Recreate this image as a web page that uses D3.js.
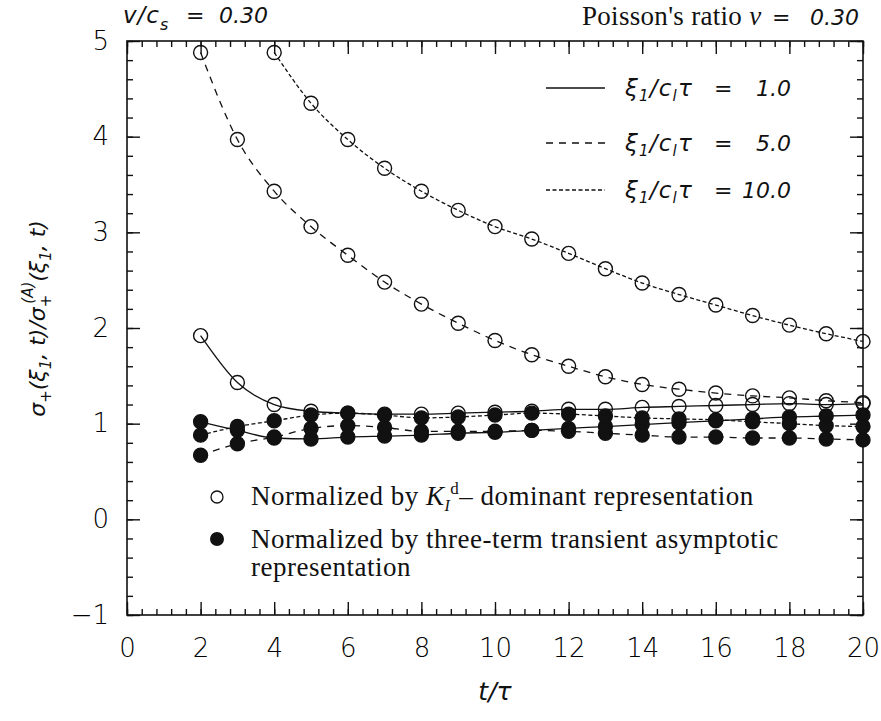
<!DOCTYPE html>
<html>
<head>
<meta charset="utf-8">
<script src="https://cdn.jsdelivr.net/npm/d3@7/dist/d3.min.js"></script>
<style>
  html, body { margin: 0; padding: 0; background: #fff; }
  svg { display: block; }
  .tick text { font-family: "DejaVu Sans", sans-serif; font-weight: 200; font-size: 26px; fill: #000; }
  .sans-it { font-family: "DejaVu Sans", sans-serif; font-style: italic; fill: #111; }
  .serif { font-family: "Liberation Serif", serif; fill: #111; }
</style>
</head>
<body>
<svg id="chart" width="881" height="721"></svg>
<script>
// time steps t/τ
const tSteps = [2,3,4,5,6,7,8,9,10,11,12,13,14,15,16,17,18,19,20];
const tFar = [4,5,6,7,8,9,10,11,12,13,14,15,16,17,18,19,20];

// normalized by K_I^d-dominant representation (open circles)
const openXi1  = [1.92,1.43,1.20,1.13,1.11,1.10,1.10,1.11,1.12,1.13,1.15,1.15,1.17,1.18,1.19,1.20,1.21,1.20,1.21];
const openXi5  = [4.88,3.97,3.43,3.06,2.76,2.48,2.25,2.05,1.87,1.72,1.60,1.49,1.41,1.36,1.32,1.29,1.27,1.24,1.22];
const openXi10 = [4.88,4.35,3.97,3.67,3.43,3.23,3.06,2.93,2.78,2.62,2.47,2.35,2.24,2.13,2.03,1.94,1.86];

// normalized by three-term transient asymptotic representation (filled circles)
const fillXi1  = [1.02,0.93,0.85,0.84,0.86,0.87,0.88,0.90,0.91,0.93,0.95,0.97,0.99,1.01,1.03,1.05,1.07,1.08,1.09];
const fillXi5  = [0.67,0.79,0.86,0.95,0.98,0.96,0.92,0.92,0.92,0.93,0.92,0.90,0.88,0.86,0.86,0.85,0.85,0.84,0.83];
const fillXi10 = [0.88,0.97,1.03,1.09,1.11,1.09,1.06,1.07,1.09,1.11,1.10,1.08,1.06,1.05,1.04,1.02,1.00,0.98,0.97];

const legendValues = ["1.0", "5.0", "10.0"];
const xMajor = [0,2,4,6,8,10,12,14,16,18,20];
const yMajor = [-1,0,1,2,3,4,5];

const svg = d3.select("#chart");
const x = d3.scaleLinear().domain([0, 20]).range([127, 863]);
const y = d3.scaleLinear().domain([-1, 5]).range([615, 41]);

const dashes = { solid: null, dashed: "7,6", dotted: "4,2.5" };

const series = [
  { t: tSteps, v: openXi1,  style: "solid",  filled: false },
  { t: tSteps, v: openXi5,  style: "dashed", filled: false },
  { t: tFar,   v: openXi10, style: "dotted", filled: false },
  { t: tSteps, v: fillXi1,  style: "solid",  filled: true },
  { t: tSteps, v: fillXi5,  style: "dashed", filled: true },
  { t: tSteps, v: fillXi10, style: "dotted", filled: true }
];

// axes with inward ticks on all four sides
const minorX = d3.range(0, 20.001, 0.4);
const minorY = d3.range(-1, 5.001, 0.2);
const axisGroup = svg.append("g");

function addAxis(axis, transform, labels) {
  const g = axisGroup.append("g").attr("transform", transform).call(axis);
  g.select(".domain").remove();
  g.selectAll(".tick line").attr("stroke", "#111").attr("stroke-width", 1.4);
  if (!labels) g.selectAll(".tick text").remove();
  return g;
}
addAxis(d3.axisBottom(x).tickValues(minorX).tickSize(-6).tickFormat(""), `translate(0,${y(-1)})`, false);
addAxis(d3.axisTop(x).tickValues(minorX).tickSize(-6).tickFormat(""), `translate(0,${y(5)})`, false);
addAxis(d3.axisLeft(y).tickValues(minorY).tickSize(-6).tickFormat(""), `translate(${x(0)},0)`, false);
addAxis(d3.axisRight(y).tickValues(minorY).tickSize(-6).tickFormat(""), `translate(${x(20)},0)`, false);

addAxis(d3.axisBottom(x).tickValues(xMajor).tickSize(-13).tickPadding(24).tickFormat(d3.format("d")), `translate(0,${y(-1)})`, true);
addAxis(d3.axisTop(x).tickValues(xMajor).tickSize(-13).tickFormat(""), `translate(0,${y(5)})`, false);
addAxis(d3.axisLeft(y).tickValues(yMajor).tickSize(-13).tickPadding(18).tickFormat(d => d < 0 ? "\u2212" + Math.abs(d) : d), `translate(${x(0)},0)`, true);
addAxis(d3.axisRight(y).tickValues(yMajor).tickSize(-13).tickFormat(""), `translate(${x(20)},0)`, false);

svg.append("rect")
  .attr("x", x(0)).attr("y", y(5))
  .attr("width", x(20) - x(0)).attr("height", y(-1) - y(5))
  .attr("fill", "none").attr("stroke", "#111").attr("stroke-width", 1.6);

// curves
const line = d3.line().x(d => x(d[0])).y(d => y(d[1])).curve(d3.curveMonotoneX);
const plot = svg.append("g");
series.forEach(s => {
  const pts = s.t.map((t, i) => [t, s.v[i]]);
  plot.append("path")
    .attr("d", line(pts))
    .attr("fill", "none")
    .attr("stroke", "#111")
    .attr("stroke-width", 1.3)
    .attr("stroke-dasharray", dashes[s.style]);
});
series.forEach(s => {
  const pts = s.t.map((t, i) => [t, s.v[i]]);
  plot.selectAll(null).data(pts).enter().append("circle")
    .attr("cx", d => x(d[0])).attr("cy", d => y(d[1]))
    .attr("r", 7)
    .attr("fill", s.filled ? "#111" : "none")
    .attr("stroke", "#111")
    .attr("stroke-width", 1.4);
});

// line-style legend
const styles = ["solid", "dashed", "dotted"];
const legY = [88, 143, 190];
styles.forEach((st, i) => {
  svg.append("line")
    .attr("x1", 546).attr("x2", 605).attr("y1", legY[i]).attr("y2", legY[i])
    .attr("stroke", "#111").attr("stroke-width", 1.3)
    .attr("stroke-dasharray", dashes[st]);
  const t = svg.append("text").attr("class", "sans-it").attr("x", 625).attr("y", legY[i] + 8)
    .attr("font-size", 23).attr("letter-spacing", 1.2);
  t.append("tspan").text("\u03BE");
  t.append("tspan").attr("font-size", 15).attr("dy", 5).text("1");
  t.append("tspan").attr("dy", -5).text("/c");
  t.append("tspan").attr("font-size", 15).attr("dy", 5).text("l");
  t.append("tspan").attr("dy", -5).text("\u03C4");
  svg.append("text").attr("class", "sans-it").attr("x", 714).attr("y", legY[i] + 8)
    .attr("font-size", 22).text("=");
  svg.append("text").attr("class", "sans-it").attr("x", 791).attr("y", legY[i] + 8)
    .attr("font-size", 22).attr("text-anchor", "end").text(legendValues[i]);
});

// marker legend
svg.append("circle").attr("cx", 217).attr("cy", 497).attr("r", 6)
  .attr("fill", "none").attr("stroke", "#111").attr("stroke-width", 1.3);
svg.append("circle").attr("cx", 217).attr("cy", 539).attr("r", 7).attr("fill", "#111");
const l1 = svg.append("text").attr("class", "serif").attr("x", 251).attr("y", 505)
  .attr("font-size", 27).attr("letter-spacing", 0.5);
l1.append("tspan").text("Normalized by ");
l1.append("tspan").attr("font-style", "italic").text("K");
l1.append("tspan").attr("font-style", "italic").attr("font-size", 16).attr("dy", 6).text("I");
l1.append("tspan").attr("font-size", 17).attr("dy", -17).text("d");
l1.append("tspan").attr("dy", 11).text("\u2013 dominant representation");
svg.append("text").attr("class", "serif").attr("x", 251).attr("y", 548).attr("font-size", 27)
  .attr("letter-spacing", 0.5).text("Normalized by three-term transient asymptotic");
svg.append("text").attr("class", "serif").attr("x", 251).attr("y", 576).attr("font-size", 27)
  .attr("letter-spacing", 0.5).text("representation");

// header annotations
const h1 = svg.append("text").attr("class", "sans-it").attr("x", 123).attr("y", 23)
  .attr("font-size", 23).attr("letter-spacing", 1);
h1.append("tspan").text("v/c");
h1.append("tspan").attr("font-size", 16).attr("dy", 7).text("s");
svg.append("text").attr("class", "sans-it").attr("x", 186).attr("y", 23).attr("font-size", 22).text("=");
svg.append("text").attr("class", "sans-it").attr("x", 268).attr("y", 23).attr("font-size", 22)
  .attr("text-anchor", "end").text("0.30");

const h2 = svg.append("text").attr("x", 582).attr("y", 25);
h2.append("tspan").attr("class", "serif").attr("font-size", 27).attr("letter-spacing", 0.3).text("Poisson's ratio ");
h2.append("tspan").attr("class", "serif").attr("font-style", "italic").attr("font-size", 27).text("\u03BD");
svg.append("text").attr("class", "sans-it").attr("x", 772).attr("y", 25).attr("font-size", 22).text("=");
svg.append("text").attr("class", "sans-it").attr("x", 859).attr("y", 25).attr("font-size", 22)
  .attr("text-anchor", "end").text("0.30");

// axis titles
svg.append("text").attr("class", "sans-it").attr("x", 495).attr("y", 700)
  .attr("text-anchor", "middle").attr("font-size", 25).text("t/\u03C4");

const yt = svg.append("text").attr("class", "sans-it")
  .attr("transform", `translate(45,${y(2.1)}) rotate(-90)`)
  .attr("text-anchor", "middle").attr("font-size", 22);
yt.append("tspan").text("\u03C3");
yt.append("tspan").attr("font-size", 15).attr("dy", 6).text("+");
yt.append("tspan").attr("dy", -6).text("(\u03BE");
yt.append("tspan").attr("font-size", 15).attr("dy", 6).text("1");
yt.append("tspan").attr("dy", -6).text(", t)/\u03C3");
yt.append("tspan").attr("font-size", 15).attr("dy", 6).text("+");
yt.append("tspan").attr("font-size", 15).attr("dx", -9).attr("dy", -18).text("(A)");
yt.append("tspan").attr("dy", 12).text("(\u03BE");
yt.append("tspan").attr("font-size", 15).attr("dy", 6).text("1");
yt.append("tspan").attr("dy", -6).text(", t)");
</script>
</body>
</html>
